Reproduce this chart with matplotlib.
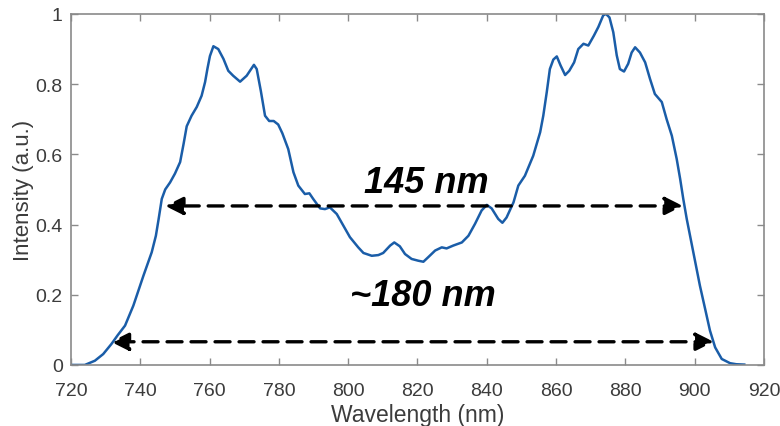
import matplotlib
matplotlib.use("Agg")
import matplotlib.pyplot as plt
import numpy as np

# Spectrum
wavelength = [
    720, 724, 726.9, 729.3, 731.7, 733.5, 735.6, 738.0, 740.9, 743.3, 744.5,
    745.3, 746.2, 747.2, 748.6, 750.0, 751.5, 752.5, 753.4, 754.8, 756.3, 757.7,
    758.7, 759.4, 760.1, 761.1, 762.5, 764.0, 765.4, 766.8, 768.8, 770.7,
    772.8, 773.6, 774.8, 776.0, 777.2, 778.5, 779.8, 781.0, 782.7, 784.2,
    785.6, 787.5, 788.8, 789.9, 791.9, 793.3, 794.7, 796.7, 798.6, 800.5,
    802.9, 804.4, 806.8, 808.7, 810.1, 812.1, 813.3, 814.9, 816.4, 818.3,
    820.2, 821.7, 823.1, 825.1, 827.0, 828.4, 830.3, 832.8, 834.7, 836.6,
    838.5, 840.0, 841.4, 843.3, 844.5, 845.7, 847.7, 849.1, 851.0, 853.4,
    855.4, 856.3, 857.3, 858.2, 859.2, 860.2, 861.3, 862.6, 863.8, 865.2,
    866.4, 867.9, 869.3, 870.9, 872.2, 873.6, 874.4, 875.4, 876.5, 877.5,
    878.4, 879.6, 880.8, 881.8, 882.8, 884.2, 885.7, 887.1, 888.5, 890.5,
    891.9, 893.4, 894.8, 895.8, 896.7, 897.7, 899.6, 901.5, 903.0, 904.4,
    905.9, 907.8, 910.2, 912.0, 914.3,
]
intensity = [
    0.0, 0.0, 0.012, 0.031, 0.06, 0.085, 0.112, 0.169, 0.254, 0.321, 0.368,
    0.416, 0.473, 0.50, 0.52, 0.545, 0.578, 0.63, 0.68, 0.71, 0.735, 0.767,
    0.806, 0.845, 0.88, 0.908, 0.90, 0.872, 0.838, 0.824, 0.807, 0.824,
    0.855, 0.843, 0.78, 0.71, 0.695, 0.695, 0.685, 0.66, 0.615, 0.549,
    0.511, 0.487, 0.489, 0.473, 0.446, 0.444, 0.449, 0.43, 0.397, 0.364,
    0.335, 0.319, 0.311, 0.313, 0.319, 0.34, 0.349, 0.338, 0.316, 0.302,
    0.297, 0.294, 0.307, 0.326, 0.335, 0.332, 0.34, 0.349, 0.368, 0.402,
    0.44, 0.456, 0.446, 0.416, 0.405, 0.42, 0.463, 0.511, 0.539, 0.596,
    0.663, 0.71, 0.777, 0.843, 0.87, 0.879, 0.853, 0.826, 0.838, 0.862,
    0.90, 0.915, 0.91, 0.938, 0.963, 0.996, 1.0, 0.99, 0.948, 0.882,
    0.843, 0.836, 0.858, 0.89, 0.905, 0.89, 0.862, 0.815, 0.772, 0.749,
    0.70, 0.653, 0.587, 0.53, 0.473, 0.416, 0.321, 0.226, 0.16, 0.098,
    0.05, 0.017, 0.005, 0.002, 0.001,
]

# width markers: arrow ends, arrow height, label and where the label sits
fwhm_ends = [747.2, 896.6]
fwhm_level = 0.453
fwhm_text = "145 nm"
fwhm_text_pos = (822.6, 0.52)
base_ends = [731.5, 905.5]
base_level = 0.066
base_text = "~180 nm"
base_text_pos = (821.5, 0.198)

xticks = [720, 740, 760, 780, 800, 820, 840, 860, 880, 900, 920]
yticks = [0, 0.2, 0.4, 0.6, 0.8, 1]
ytick_labels = ["0", "0.2", "0.4", "0.6", "0.8", "1"]

plt.rcParams["font.family"] = ["Liberation Sans", "DejaVu Sans"]

fig = plt.figure(figsize=(7.8, 4.27), dpi=100)
ax = fig.add_axes([0.091, 0.143, 0.8885, 0.822])

ax.plot(wavelength, intensity, color="#1a5da8", linewidth=1.8)

grey = "#8a8a8a"
text_grey = "#3c3c3c"


def width_arrow(ends, level):
    # dashed shaft with a filled head on each side
    ax.annotate("", xy=(ends[0], level), xytext=(ends[1], level),
                arrowprops=dict(arrowstyle="<|-|>", color="black", lw=2.4,
                                linestyle=(0, (4.5, 2.7)), mutation_scale=27,
                                shrinkA=0, shrinkB=0))


width_arrow(fwhm_ends, fwhm_level)
width_arrow(base_ends, base_level)

for txt, pos in [(fwhm_text, fwhm_text_pos), (base_text, base_text_pos)]:
    ax.text(pos[0], pos[1], txt, ha="center", va="center", fontsize=26,
            fontweight="bold", fontstyle="italic", color="black")

ax.set_xlim(720, 920)
ax.set_ylim(0, 1)
ax.set_xticks(xticks)
ax.set_yticks(yticks)
ax.set_yticklabels(ytick_labels)

ax.tick_params(direction="in", length=5, width=1, color=grey,
               labelcolor=text_grey, labelsize=14, top=True, right=True)
ax.tick_params(axis="x", pad=12)
ax.tick_params(axis="y", pad=6)
for side in ax.spines.values():
    side.set_color(grey)
    side.set_linewidth(1.2)

ax.set_xlabel("Wavelength (nm)", fontsize=16.5, color=text_grey, labelpad=3)
ax.set_ylabel("Intensity (a.u.)", fontsize=16, color=text_grey, labelpad=1)

fig.savefig("out.png", dpi=100)
